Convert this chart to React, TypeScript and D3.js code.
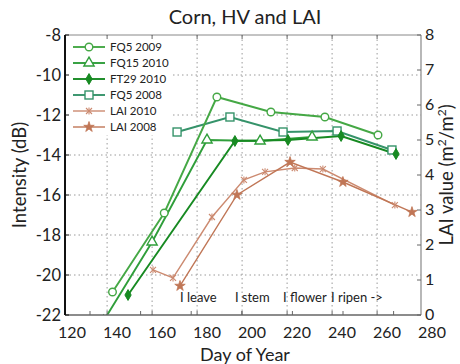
import React from 'react';
import * as d3 from 'd3';

const dayTicks = [120, 140, 160, 180, 200, 220, 240, 260, 280];
const dbTicks = [-8, -10, -12, -14, -16, -18, -20, -22];
const laiTicks = [0, 1, 2, 3, 4, 5, 6, 7, 8];

const fq5_2009_day = [138, 161, 184.4, 208.4, 232.4, 256];
const fq5_2009_db = [-20.85, -16.9, -11.1, -11.85, -12.1, -13.0];
const fq15_2010_day = [134, 155.6, 180, 203.6, 226.7];
const fq15_2010_db = [-22.3, -18.35, -13.25, -13.3, -13.1];
const ft29_2010_day = [144.9, 192.4, 216, 239.6, 264];
const ft29_2010_db = [-21.0, -13.3, -13.25, -13.05, -13.95];
const fq5_2008_day = [166.7, 190.2, 213.8, 237.8, 262.2];
const fq5_2008_db = [-12.85, -12.1, -12.85, -12.8, -13.75];
const lai_2010_day = [156, 164.9, 182.2, 196.4, 205.8, 219, 231.5, 263.5];
const lai_2010_val = [1.29, 1.06, 2.8, 3.86, 4.09, 4.2, 4.17, 3.14];
const lai_2008_day = [168, 193.3, 216.9, 240.4, 271.1];
const lai_2008_val = [0.83, 3.43, 4.37, 3.8, 2.94];

const stageLabels = ['I leave', 'I stem', 'I flower', 'I ripen ->'];
const stageDays = [168, 192.4, 213.8, 235.1];
const gridDays = [135.6, 155.6, 175.6, 195.6, 215.6, 235.6, 255.6];
const gridDb = [-10, -12, -14, -16, -18, -20];

const FONT = 'Lato, "Open Sans", sans-serif';

type Series = { name: string; days: number[]; vals: number[]; axis: 'L' | 'R'; color: string; marker: string };

const series: Series[] = [
  { name: 'FQ5 2009', days: fq5_2009_day, vals: fq5_2009_db, axis: 'L', color: '#45a845', marker: 'circle' },
  { name: 'FQ15 2010', days: fq15_2010_day, vals: fq15_2010_db, axis: 'L', color: '#2f9e3a', marker: 'triangle' },
  { name: 'FT29 2010', days: ft29_2010_day, vals: ft29_2010_db, axis: 'L', color: '#178a22', marker: 'diamond' },
  { name: 'FQ5 2008', days: fq5_2008_day, vals: fq5_2008_db, axis: 'L', color: '#35936a', marker: 'square' },
  { name: 'LAI 2010', days: lai_2010_day, vals: lai_2010_val, axis: 'R', color: '#cc8a70', marker: 'cross' },
  { name: 'LAI 2008', days: lai_2008_day, vals: lai_2008_val, axis: 'R', color: '#c07656', marker: 'star' },
];

const W = 460, H = 364;
const left = 65, right = 421, top = 35, bottom = 315;

const x = d3.scaleLinear().domain([120, 280]).range([72, 432]);
const yL = d3.scaleLinear().domain([-22, -8]).range([bottom, top]);
const yR = d3.scaleLinear().domain([0, 8]).range([bottom, top]);

function Marker({ type, cx, cy, color }: { type: string; cx: number; cy: number; color: string }) {
  const t = `translate(${cx},${cy})`;
  if (type === 'circle') return <circle cx={cx} cy={cy} r={3.8} fill="white" stroke={color} strokeWidth={1.4} />;
  if (type === 'square') return <rect x={cx - 4} y={cy - 4} width={8} height={8} fill="white" stroke={color} strokeWidth={1.4} />;
  if (type === 'triangle') return <path transform={t} d={d3.symbol(d3.symbolTriangle, 45)()!} fill="white" stroke={color} strokeWidth={1.4} />;
  if (type === 'diamond') return <path transform={t} d={d3.symbol(d3.symbolDiamond, 34)()!} fill={color} stroke={color} strokeWidth={1} />;
  if (type === 'star') return <path transform={t} d={d3.symbol(d3.symbolStar, 34)()!} fill={color} stroke={color} strokeWidth={0.8} />;
  return (
    <g transform={t} stroke={color} strokeWidth={1.1}>
      <line x1={-3} y1={-3} x2={3} y2={3} />
      <line x1={-3} y1={3} x2={3} y2={-3} />
      <line x1={0} y1={-3.5} x2={0} y2={3.5} />
    </g>
  );
}

export default function App() {
  const line = d3.line<[number, number]>();
  const pts = (s: Series): [number, number][] =>
    s.days.map((d, i) => [x(d), s.axis === 'L' ? yL(s.vals[i]) : yR(s.vals[i])]);
  const drawOrder = [4, 5, 3, 0, 1, 2];
  const legendY = (i: number) => 47 + i * 16;
  const bottomMinor = d3.range(7).map((i) => 90 + i * 50.6);

  return (
    <svg width={W} height={H} style={{ position: 'absolute', left: 0, top: 0, background: 'white' }} fontFamily={FONT}>
      <defs>
        <clipPath id="plotclip">
          <rect x={left} y={top} width={right - left} height={bottom - top} />
        </clipPath>
      </defs>
      <rect x={0} y={0} width={W} height={H} fill="white" />
      {/* grid */}
      <g stroke="#9a9a9a" strokeWidth={1} strokeDasharray="1.5,3">
        {gridDb.map((v) => (
          <line key={'h' + v} x1={left} x2={right} y1={yL(v)} y2={yL(v)} />
        ))}
        {gridDays.map((d) => (
          <line key={'v' + d} x1={x(d)} x2={x(d)} y1={top} y2={bottom} />
        ))}
      </g>
      {/* data */}
      <g clipPath="url(#plotclip)">
        {drawOrder.map((k) => {
          const s = series[k];
          return <path key={s.name} d={line(pts(s))!} fill="none" stroke={s.color} strokeWidth={s.axis === 'L' ? 1.9 : 1.4} />;
        })}
        {drawOrder.map((k) => {
          const s = series[k];
          return pts(s).map(([px, py], i) => <Marker key={s.name + i} type={s.marker} cx={px} cy={py} color={s.color} />);
        })}
      </g>
      {/* stage labels */}
      {stageLabels.map((t, i) => (
        <text key={t} x={x(stageDays[i])} y={302} fontSize={13} fill="#222">{t}</text>
      ))}
      {/* legend */}
      <rect x={left + 1} y={top + 1} width={104} height={99} fill="white" />
      {series.map((s, i) => (
        <g key={'lg' + s.name}>
          <line x1={73} x2={105} y1={legendY(i)} y2={legendY(i)} stroke={s.color} strokeWidth={s.axis === 'L' ? 1.9 : 1.4} />
          <Marker type={s.marker} cx={89} cy={legendY(i)} color={s.color} />
          <text x={110} y={legendY(i) + 4} fontSize={11.5} fill="#222">{s.name}</text>
        </g>
      ))}
      {/* frame */}
      <line x1={left} x2={right} y1={top} y2={top} stroke="#888" strokeWidth={1} />
      <line x1={right} x2={right} y1={top} y2={bottom} stroke="#888" strokeWidth={1.2} />
      <line x1={left} x2={right} y1={bottom} y2={bottom} stroke="#666" strokeWidth={1.5} />
      <line x1={left} x2={left} y1={top} y2={bottom} stroke="#111" strokeWidth={2} />
      {/* ticks */}
      <g stroke="#666" strokeWidth={1}>
        {gridDays.map((d) => (
          <g key={'t' + d}>
            <line x1={x(d)} x2={x(d)} y1={bottom} y2={bottom - 4} />
            <line x1={x(d)} x2={x(d)} y1={top} y2={top + 4} />
          </g>
        ))}
        {bottomMinor.map((px) => (
          <line key={'m' + px} x1={px} x2={px} y1={bottom} y2={bottom - 4} />
        ))}
        {laiTicks.map((v) => (
          <line key={'r' + v} x1={right} x2={right - 4} y1={yR(v)} y2={yR(v)} />
        ))}
      </g>
      <g stroke="#111" strokeWidth={1}>
        {dbTicks.map((v) => (
          <line key={'l' + v} x1={left} x2={left + 4} y1={yL(v)} y2={yL(v)} />
        ))}
      </g>
      {/* tick labels */}
      {dbTicks.map((v) => (
        <text key={'lt' + v} x={left - 4} y={yL(v) + 5.5} fontSize={16.5} textAnchor="end" fill="#222">{v}</text>
      ))}
      {laiTicks.map((v) => (
        <text key={'rt' + v} x={right + 4} y={yR(v) + 4.5} fontSize={16} fill="#222">{v}</text>
      ))}
      {dayTicks.map((d) => (
        <text key={'xt' + d} x={x(d)} y={338} fontSize={16} textAnchor="middle" fill="#222">{d}</text>
      ))}
      {/* titles */}
      <text x={245} y={24} fontSize={20} textAnchor="middle" fill="#222">Corn, HV and LAI</text>
      <text x={245} y={361} fontSize={18} textAnchor="middle" fill="#222">Day of Year</text>
      <text transform={`translate(26,${(top + bottom) / 2}) rotate(-90)`} fontSize={18.5} textAnchor="middle" fill="#222">Intensity (dB)</text>
      <text transform={`translate(453,${(top + bottom) / 2}) rotate(-90)`} fontSize={18.5} textAnchor="middle" fill="#222">
        LAI value (m<tspan fontSize={12} dy={-7}>2</tspan><tspan dy={7}>/m</tspan><tspan fontSize={12} dy={-7}>2</tspan><tspan dy={7}>)</tspan>
      </text>
    </svg>
  );
}
